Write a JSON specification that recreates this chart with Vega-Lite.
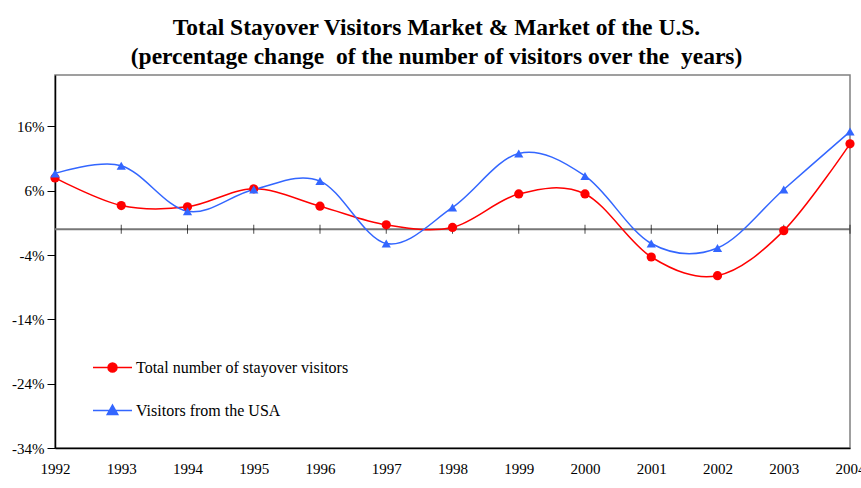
{
  "$schema": "https://vega.github.io/schema/vega-lite/v6.json",
  "width": 795,
  "height": 373,
  "autosize": "none",
  "padding": {"left": 55, "top": 75, "right": 11, "bottom": 40},
  "background": "white",
  "title": {
    "text": ["Total Stayover Visitors Market & Market of the U.S.", "(percentage change \u00a0of the number of visitors over the \u00a0years)"],
    "font": "Liberation Serif",
    "fontSize": 23.5,
    "fontWeight": "bold",
    "color": "black",
    "lineHeight": 29,
    "anchor": "start",
    "align": "center",
    "dx": 425,
    "offset": 7
  },
  "config": {
    "view": {"stroke": "#808080", "strokeWidth": 1.5},
    "axis": {"grid": false, "labelFont": "Liberation Serif", "labelFontSize": 15, "labelColor": "black", "domainColor": "black", "tickColor": "black", "titleFont": "Liberation Serif"}
  },
  "datasets": {
    "series": [
      {"year": 1992, "series": "Total number of stayover visitors", "value": 8.0},
      {"year": 1993, "series": "Total number of stayover visitors", "value": 3.7},
      {"year": 1994, "series": "Total number of stayover visitors", "value": 3.5},
      {"year": 1995, "series": "Total number of stayover visitors", "value": 6.3},
      {"year": 1996, "series": "Total number of stayover visitors", "value": 3.6},
      {"year": 1997, "series": "Total number of stayover visitors", "value": 0.7},
      {"year": 1998, "series": "Total number of stayover visitors", "value": 0.3},
      {"year": 1999, "series": "Total number of stayover visitors", "value": 5.5},
      {"year": 2000, "series": "Total number of stayover visitors", "value": 5.5},
      {"year": 2001, "series": "Total number of stayover visitors", "value": -4.3},
      {"year": 2002, "series": "Total number of stayover visitors", "value": -7.2},
      {"year": 2003, "series": "Total number of stayover visitors", "value": -0.2},
      {"year": 2004, "series": "Total number of stayover visitors", "value": 13.3},
      {"year": 1992, "series": "Visitors from the USA", "value": 8.7},
      {"year": 1993, "series": "Visitors from the USA", "value": 9.9},
      {"year": 1994, "series": "Visitors from the USA", "value": 2.8},
      {"year": 1995, "series": "Visitors from the USA", "value": 6.2},
      {"year": 1996, "series": "Visitors from the USA", "value": 7.5},
      {"year": 1997, "series": "Visitors from the USA", "value": -2.2},
      {"year": 1998, "series": "Visitors from the USA", "value": 3.4},
      {"year": 1999, "series": "Visitors from the USA", "value": 11.8},
      {"year": 2000, "series": "Visitors from the USA", "value": 8.3},
      {"year": 2001, "series": "Visitors from the USA", "value": -2.2},
      {"year": 2002, "series": "Visitors from the USA", "value": -2.9},
      {"year": 2003, "series": "Visitors from the USA", "value": 6.2},
      {"year": 2004, "series": "Visitors from the USA", "value": 15.2}
    ],
    "ticks": [
      {"year": 1993, "z": 0}, {"year": 1994, "z": 0}, {"year": 1995, "z": 0}, {"year": 1996, "z": 0},
      {"year": 1997, "z": 0}, {"year": 1998, "z": 0}, {"year": 1999, "z": 0}, {"year": 2000, "z": 0},
      {"year": 2001, "z": 0}, {"year": 2002, "z": 0}, {"year": 2003, "z": 0}, {"year": 2004, "z": 0}
    ]
  },
  "encoding": {
    "x": {
      "field": "year", "type": "quantitative",
      "scale": {"domain": [1992, 2004], "nice": false, "zero": false},
      "axis": {"title": null, "format": "d", "values": [1992,1993,1994,1995,1996,1997,1998,1999,2000,2001,2002,2003,2004], "ticks": false, "labelPadding": 13, "domainWidth": 1.5, "labelOverlap": false, "labelFlush": false}
    }
  },
  "layer": [
    {
      "data": {"values": [{"year": 1992, "year_end": 2004, "z": 0}]},
      "mark": {"type": "rule", "color": "#777777", "strokeWidth": 2},
      "encoding": {
        "x2": {"field": "year_end"},
        "y": {"field": "z", "type": "quantitative",
          "scale": {"domain": [-34, 24], "nice": false, "zero": false},
          "axis": {"title": null, "values": [-34, -24, -14, -4, 6, 16], "labelExpr": "datum.value + '%'", "tickSize": 8, "labelPadding": 3, "domainWidth": 1.5}
        }
      }
    },
    {
      "data": {"name": "ticks"},
      "mark": {"type": "tick", "orient": "vertical", "color": "black", "size": 9, "thickness": 1},
      "encoding": {
        "y": {"field": "z", "type": "quantitative"}
      }
    },
    {
      "data": {"name": "series"},
      "mark": {"type": "line", "interpolate": "cardinal", "strokeWidth": 1.5},
      "encoding": {
        "y": {"field": "value", "type": "quantitative"},
        "color": {
          "field": "series", "type": "nominal",
          "scale": {"domain": ["Total number of stayover visitors", "Visitors from the USA"], "range": ["#FF0000", "#3366FF"]},
          "legend": {
            "title": null,
            "orient": "none",
            "legendX": 37,
            "legendY": 272,
            "padding": 0,
            "symbolSize": 1521,
            "symbolStrokeWidth": 1.5,
            "rowPadding": 14,
            "labelFont": "Liberation Serif",
            "labelFontSize": 16,
            "labelColor": "black",
            "labelOffset": 3,
            "labelLimit": 400,
            "encode": {
              "symbols": {
                "update": {
                  "shape": {"signal": "datum.value === 'Visitors from the USA' ? 'M-1,0H1M0,-0.28L0.27,0.2L-0.27,0.2Z' : 'M-1,0H1M-0.23,0A0.23,0.23,0,1,0,0.23,0A0.23,0.23,0,1,0,-0.23,0Z'"},
                  "fill": {"signal": "scale('color', datum.value)"},
                  "stroke": {"signal": "scale('color', datum.value)"},
                  "opacity": {"value": 1}
                }
              }
            }
          }
        }
      }
    },
    {
      "data": {"name": "series"},
      "mark": {"type": "point", "filled": true, "opacity": 1},
      "encoding": {
        "y": {"field": "value", "type": "quantitative"},
        "color": {"field": "series", "type": "nominal"},
        "shape": {"field": "series", "type": "nominal", "scale": {"range": ["circle", "triangle-up"]}, "legend": null},
        "size": {"value": 85}
      }
    }
  ]
}
